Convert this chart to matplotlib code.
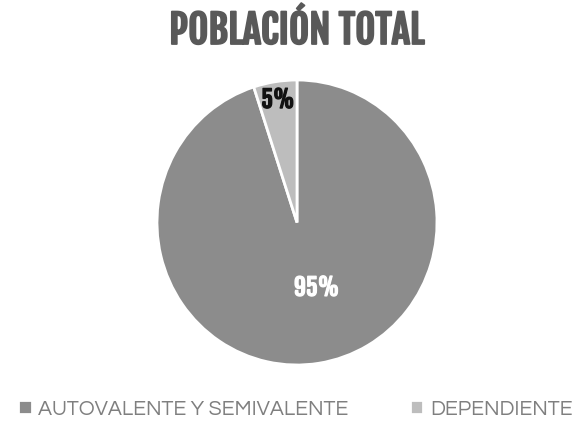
import matplotlib
matplotlib.use("Agg")
import matplotlib.pyplot as plt
import matplotlib.patheffects as pe
import numpy as np

categories = ["AUTOVALENTE Y SEMIVALENTE", "DEPENDIENTE"]
values = [95, 5]
colors = ["#8c8c8c", "#bdbdbd"]
title = "POBLACIÓN TOTAL"

heavy = ["Fjalla One", "Anton", "DejaVu Sans"]
gothic = ["Questrial", "DejaVu Sans"]

W, H = 587, 423
fig = plt.figure(figsize=(W / 100, H / 100), dpi=100)
fig.patch.set_facecolor("white")

# pie bounding box in pixels: x 157..437, y 80..365
x0, x1, y0, y1 = 157, 437, 80, 365
ax = fig.add_axes([x0 / W, 1 - y1 / H, (x1 - x0) / W, (y1 - y0) / H])

wedges, _ = ax.pie(values, colors=colors, startangle=90, counterclock=False,
                   wedgeprops=dict(edgecolor="white", linewidth=2))
ax.set_aspect("auto")
ax.set_xlim(-1, 1)
ax.set_ylim(-1, 1)
ax.axis("off")

# percentage labels, thickened with a stroke in the text colour
label_r = [0.48, 0.87]
label_col = ["white", "#111111"]
label_shift = [8, 0]
for w, v, rr, c, sh in zip(wedges, values, label_r, label_col, label_shift):
    ang = np.deg2rad((w.theta1 + w.theta2) / 2 + sh)
    ax.text(rr * np.cos(ang), rr * np.sin(ang), f"{v}%", ha="center", va="center",
            fontsize=17, color=c, family=heavy,
            path_effects=[pe.withStroke(linewidth=0.9, foreground=c)])

fig.text(0.505, 1 - 31 / H, title, ha="center", va="center", fontsize=28,
         color="#595959", family=heavy,
         path_effects=[pe.withStroke(linewidth=1.3, foreground="#595959")])

fig.legend(wedges, categories, loc="center", bbox_to_anchor=(0.503, 1 - 409 / H),
           ncol=2, frameon=False, handlelength=0.65, handleheight=0.65,
           columnspacing=2.9, handletextpad=0.3,
           prop=dict(size=15.2, family=gothic), labelcolor="#7f7f7f")

fig.savefig("out.png", dpi=100)
